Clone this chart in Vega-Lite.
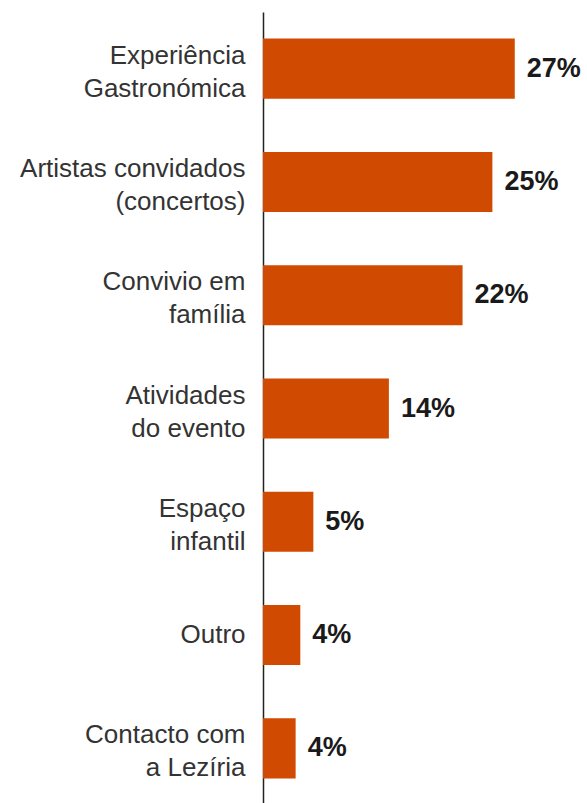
{
  "$schema": "https://vega.github.io/schema/vega-lite/v6.json",
  "autosize": "none",
  "padding": {"left": 263, "top": 12, "right": 34, "bottom": 0},
  "width": 290,
  "height": 793,
  "background": "white",
  "data": {
    "values": [
      {"cat": "Experiência|Gastronómica", "v": 27.0, "lbl": "27%"},
      {"cat": "Artistas convidados|(concertos)", "v": 24.6, "lbl": "25%"},
      {"cat": "Convivio em|família", "v": 21.4, "lbl": "22%"},
      {"cat": "Atividades|do evento", "v": 13.5, "lbl": "14%"},
      {"cat": "Espaço|infantil", "v": 5.4, "lbl": "5%"},
      {"cat": "Outro", "v": 4.0, "lbl": "4%"},
      {"cat": "Contacto com|a Lezíria", "v": 3.5, "lbl": "4%"}
    ]
  },
  "encoding": {
    "y": {
      "field": "cat", "type": "nominal", "sort": null,
      "scale": {"paddingInner": 0.47, "paddingOuter": 0.235},
      "axis": {
        "title": null, "ticks": false, "labelPadding": 18,
        "labelExpr": "split(datum.label, '|')",
        "labelOffset": {"condition": {"test": "indexof(datum.value, '|') >= 0", "value": -13}, "value": 0},
        "labelFont": "Liberation Sans", "labelFontSize": 26, "labelColor": "#333333",
        "labelLineHeight": 33, "labelLimit": 300,
        "domainColor": "#222222", "domainWidth": 1.5, "grid": false
      }
    },
    "x": {
      "field": "v", "type": "quantitative",
      "scale": {"domain": [0, 31.1], "nice": false},
      "axis": null
    }
  },
  "layer": [
    {"mark": {"type": "bar", "color": "#D04A02"}},
    {
      "mark": {"type": "text", "align": "left", "dx": 12, "font": "Liberation Sans", "fontSize": 27, "fontWeight": "bold", "color": "#1a1a1a"},
      "encoding": {"text": {"field": "lbl"}}
    }
  ],
  "config": {"view": {"stroke": null}}
}
